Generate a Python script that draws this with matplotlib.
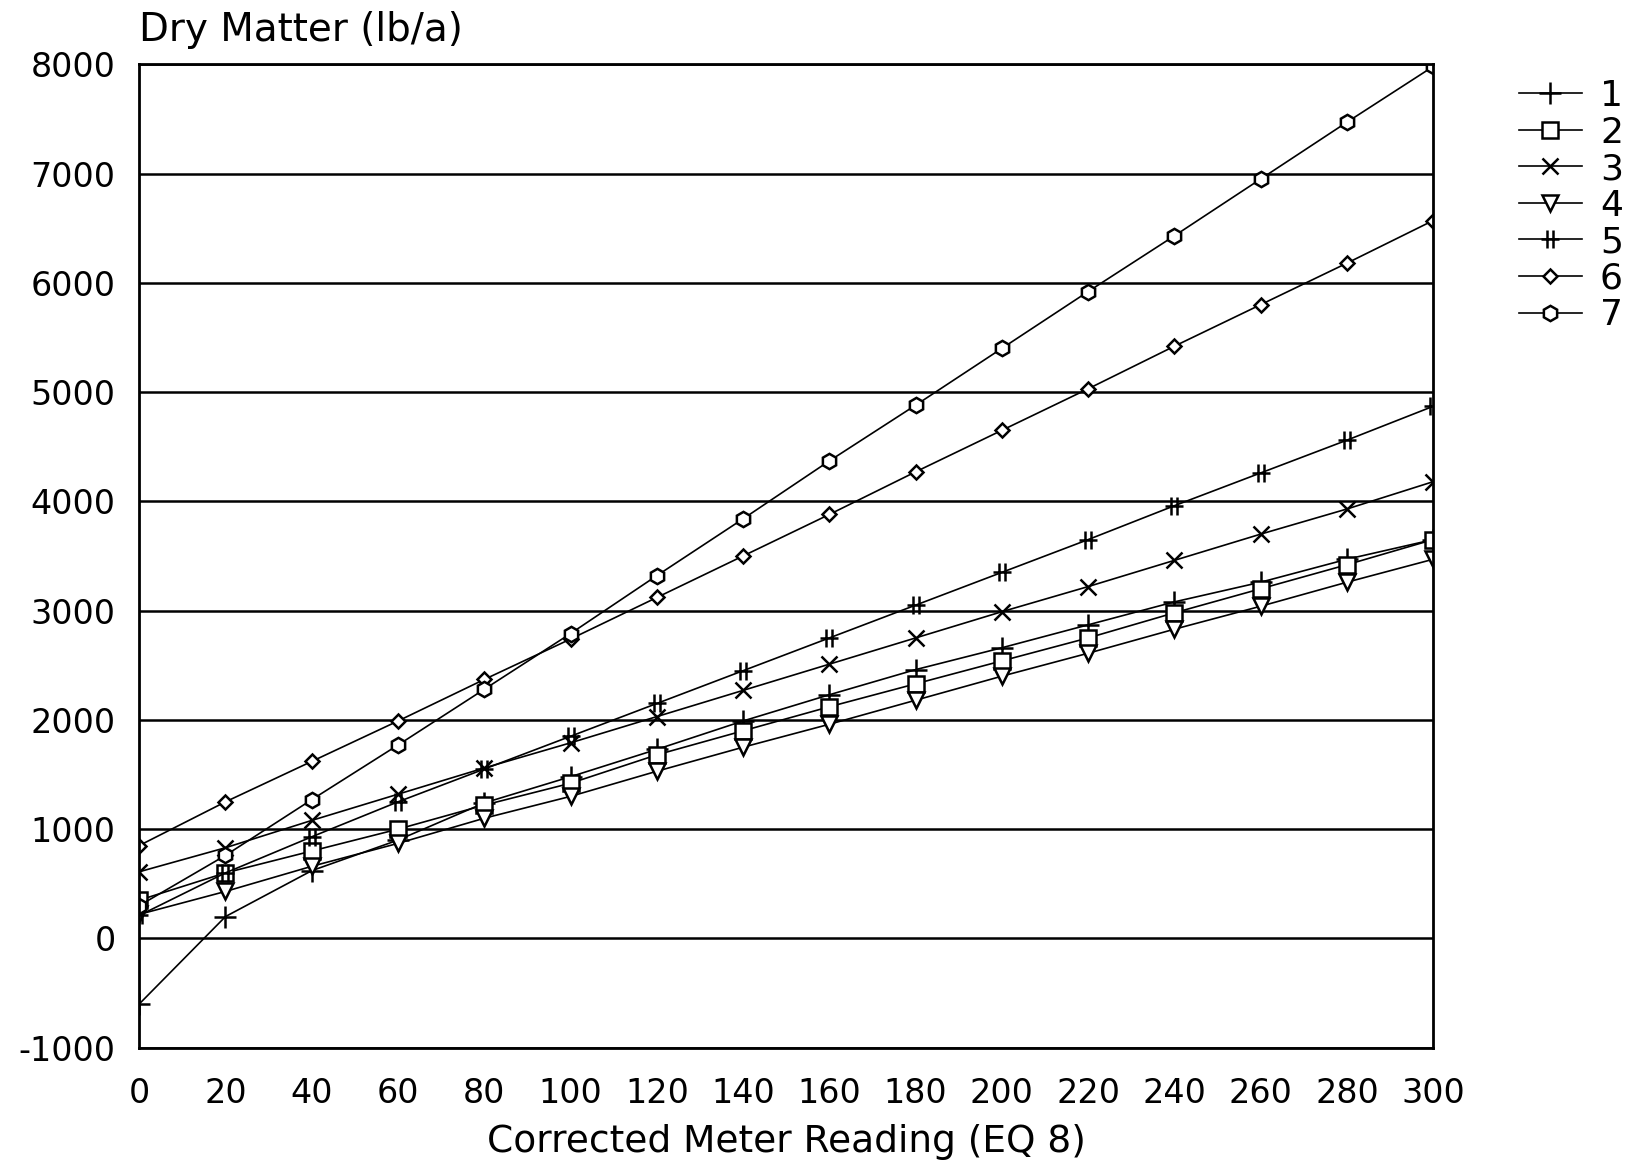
import matplotlib.pyplot as plt
import numpy as np
from matplotlib.path import Path

plt.rcParams['font.family'] = ['DejaVu Sans']
plt.rcParams['axes.unicode_minus'] = False

fig, ax = plt.subplots(figsize=(16.38, 11.68), dpi=100)
plt.subplots_adjust(left=0.085, right=0.875, top=0.945, bottom=0.103)

x = [0, 20, 40, 60, 80, 100, 120, 140, 160, 180, 200, 220, 240, 260, 280, 300]

y1 = [-600, 200, 620, 900, 1240, 1480, 1730, 1990, 2230, 2460, 2660, 2870, 3080, 3260, 3470, 3650]
y2 = [350, 600, 800, 1000, 1220, 1420, 1680, 1900, 2120, 2330, 2540, 2750, 2980, 3200, 3420, 3650]
y3 = [610, 830, 1080, 1320, 1560, 1790, 2030, 2270, 2510, 2750, 2990, 3220, 3460, 3700, 3930, 4180]
y4 = [220, 430, 660, 870, 1100, 1300, 1530, 1750, 1960, 2180, 2400, 2610, 2830, 3040, 3260, 3470]
y5 = [210, 600, 930, 1250, 1550, 1850, 2150, 2450, 2750, 3050, 3350, 3650, 3960, 4260, 4560, 4870]
y6 = [850, 1250, 1620, 1990, 2370, 2740, 3120, 3500, 3880, 4270, 4650, 5030, 5420, 5800, 6180, 6570]
y7 = [300, 760, 1270, 1770, 2280, 2790, 3320, 3840, 4370, 4880, 5400, 5920, 6430, 6950, 7470, 7980]

labels = ["1", "2", "3", "4", "5", "6", "7"]

# double bar marker for series 5
bars = Path([(-0.35, -1), (-0.35, 1), (0.35, -1), (0.35, 1), (-1, 0), (1, 0)],
            [Path.MOVETO, Path.LINETO, Path.MOVETO, Path.LINETO, Path.MOVETO, Path.LINETO])

styles = [
    dict(marker="+", markersize=16),
    dict(marker="s", markersize=11),
    dict(marker="x", markersize=12),
    dict(marker="v", markersize=11),
    dict(marker=bars, markersize=13),
    dict(marker="D", markersize=7),
    dict(marker="h", markersize=11),
]

for ys, lab, st in zip([y1, y2, y3, y4, y5, y6, y7], labels, styles):
    ax.plot(x, ys, color="black", linewidth=1.2, markerfacecolor="white",
            markeredgecolor="black", markeredgewidth=1.8, label=lab, **st)

ax.set_xlim(0, 300)
ax.set_ylim(-1000, 8000)
ax.set_xticks(range(0, 301, 20))
ax.set_yticks(range(-1000, 8001, 1000))
ax.yaxis.grid(True, color="black", linewidth=1.8)
ax.tick_params(length=0, labelsize=24)
ax.tick_params(axis="y", pad=17)
ax.tick_params(axis="x", pad=21)
for s in ax.spines.values():
    s.set_linewidth(2)

ax.set_xlabel("Corrected Meter Reading (EQ 8)", fontsize=27, labelpad=10)
ax.text(0, 1.024, "Dry Matter (lb/a)", transform=ax.transAxes, fontsize=28,
        ha="left", va="baseline")

leg = ax.legend(loc="upper left", bbox_to_anchor=(1.066, 0.985), frameon=False,
                fontsize=26, handlelength=1.75, labelspacing=0.07, handletextpad=0.5,
                borderpad=0, borderaxespad=0)

plt.savefig("out.png", dpi=100)
